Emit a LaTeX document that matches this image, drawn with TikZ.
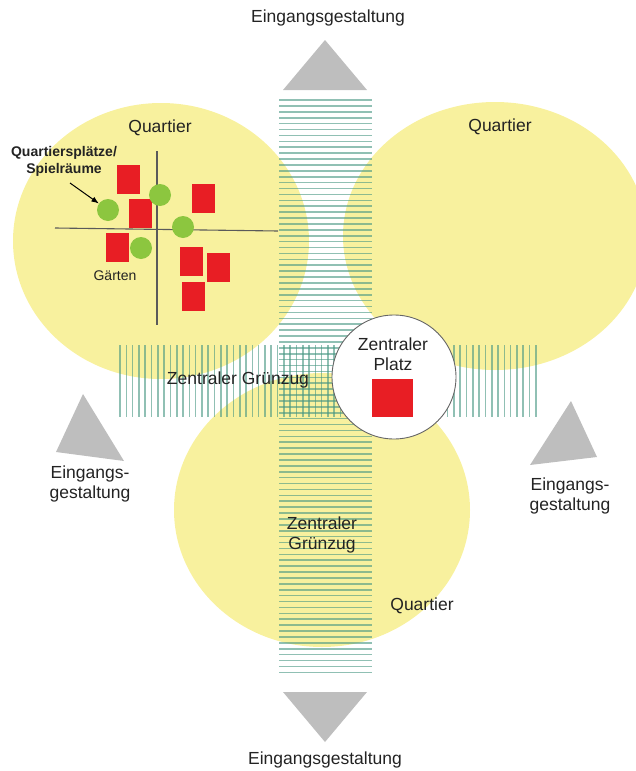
\documentclass[tikz,border=0pt]{standalone}
\usepackage{fontspec}
\setmainfont{Liberation Sans}
\usepackage{tkz-base}
\usepackage{tkz-euclide}
\usetikzlibrary{arrows.meta}

\definecolor{amarillo}{RGB}{248,241,158}
\definecolor{rojo}{RGB}{232,30,36}
\definecolor{verde}{RGB}{140,198,63}
\definecolor{gris}{RGB}{190,190,190}
\definecolor{franja}{RGB}{70,150,130}
\definecolor{texto}{RGB}{35,35,35}

\tikzset{
    barrio/.style={fill=amarillo},
    linea/.style={franja,opacity=.6,line width=1.6pt},
    casa/.style={fill=rojo},
    plaza/.style={circle,fill=verde,minimum size=22pt,inner sep=0pt},
    entrada/.style={fill=gris},
    grande/.style={text=texto,font=\fontsize{17.5}{20}\selectfont,align=center},
    chico/.style={text=texto,font=\fontsize{14}{17}\selectfont,align=center}
}

\begin{document}
\begin{tikzpicture}[x=1pt,y=-1pt]
        \useasboundingbox (0,0) rectangle (636,771);

        % Define los centros de los barrios y los vertices de las entradas
        \tkzDefPoints{
            161/241/Q1,
            495/236/Q2,
            322/510/Q3,
            394/377/Z,
            325/40/A1, 283/90/A2, 367/90/A3,
            283/692/B1, 367/692/B2, 325/742/B3,
            83/394/C1, 56/452/C2, 124/461/C3,
            571/401/D1, 597/457/D2, 530/465/D3%
        }

        % Rellena los tres barrios de amarillo
        \fill[barrio] (Q1) ellipse [x radius=148,y radius=138];
        \fill[barrio] (Q2) ellipse [x radius=152,y radius=134];
        \fill[barrio] (Q3) ellipse [x radius=148,y radius=137];

        % Dibuja las franjas verdes (vertical y horizontal)
        \foreach \y in {100,105.9,...,676}
            \draw[linea] (279,\y) -- (372,\y);
        \foreach \x in {120,126.3,...,536}
            \draw[linea] (\x,345) -- (\x,417);

        % Dibuja los ejes del barrio superior
        \draw[texto!75,line width=1.1pt] (55,228) -- (278,231);
        \draw[texto!75,line width=1.1pt] (157,151) -- (157,325);

        % Rellena las casas de rojo
        \foreach \x/\y in {117/165,129/199,192/184,106/233,180/247,207/253,182/282}
            \fill[casa] (\x,\y) rectangle ++(23,29);

        % Dibuja las plazas del barrio
        \node[plaza] (P1) at (108,210) {};
        \node[plaza] (P2) at (160,195) {};
        \node[plaza] (P3) at (183,227) {};
        \node[plaza] (P4) at (141,248) {};

        % Rellena las entradas de gris
        \fill[entrada] (A1) -- (A2) -- (A3) -- cycle;
        \fill[entrada] (B1) -- (B2) -- (B3) -- cycle;
        \fill[entrada] (C1) -- (C2) -- (C3) -- cycle;
        \fill[entrada] (D1) -- (D2) -- (D3) -- cycle;

        % Dibuja la plaza central con su edificio
        \draw[fill=white,draw=texto!70,line width=.9pt] (Z) circle (62);
        \fill[casa] (372,379) rectangle (413,417);

        % Etiqueta los barrios
        \node[grande] (q1) at (160,128) {Quartier};
        \node[grande] (q2) at (500,127) {Quartier};
        \node[grande] (q3) at (422,606) {Quartier};

        % Etiqueta las entradas
        \node[grande] (e1) at (328,18) {Eingangsgestaltung};
        \node[grande] (e2) at (325,760) {Eingangsgestaltung};
        \node[grande] (e3) at (90,484) {Eingangs-\\gestaltung};
        \node[grande] (e4) at (570,496) {Eingangs-\\gestaltung};

        % Etiqueta las franjas y la plaza central
        \node[grande] (g1) at (238,380) {Zentraler Grünzug};
        \node[grande] (g2) at (322,535) {Zentraler\\Grünzug};
        \node[grande] (z) at (393,354) {Zentraler\\Platz};

        % Etiqueta los elementos del barrio
        \node[chico,font=\bfseries\fontsize{14}{17}\selectfont] (s) at (64,161) {Quartiersplätze/\\Spielräume};
        \node[chico] (h) at (115,276) {Gärten};

        % Dibuja la flecha hacia la plaza
        \coordinate (F) at (70,183);
        \draw[-Latex,line width=1pt] (F) -- (P1);
    \end{tikzpicture}
\end{document}
